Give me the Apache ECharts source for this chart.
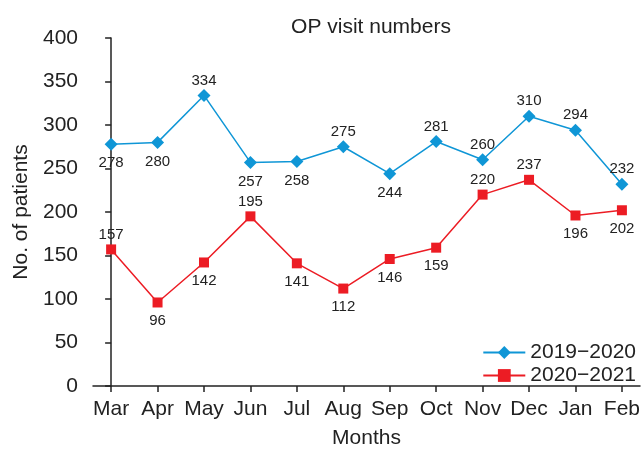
<!DOCTYPE html>
<html>
<head>
<meta charset="utf-8">
<script src="https://cdn.jsdelivr.net/npm/echarts@6/dist/echarts.min.js"></script>
<style>
  html, body { margin: 0; padding: 0; background: #fff; }
  #main { width: 643px; height: 454px; }
</style>
</head>
<body>
<div id="main"></div>
<script>
const months = ['Mar', 'Apr', 'May', 'Jun', 'Jul', 'Aug', 'Sep', 'Oct', 'Nov', 'Dec', 'Jan', 'Feb'];
const visits1920 = [278, 280, 334, 257, 258, 275, 244, 281, 260, 310, 294, 232];
const visits2021 = [157, 96, 142, 195, 141, 112, 146, 159, 220, 237, 196, 202];
const yTicks = [0, 50, 100, 150, 200, 250, 300, 350, 400];

// which side of the point each value label sits on
const side1920 = ['bottom', 'bottom', 'top', 'bottom', 'bottom', 'top', 'bottom', 'top', 'top', 'top', 'top', 'top'];
const side2021 = ['top', 'bottom', 'bottom', 'top', 'bottom', 'bottom', 'bottom', 'bottom', 'top', 'top', 'bottom', 'bottom'];

const font = 'Liberation Sans, Arial, sans-serif';
const idx = months.map((m, i) => i);

function points(values, sides, gapTop, gapBottom) {
  return values.map((v, i) => ({
    value: [i, v],
    label: { position: sides[i], distance: sides[i] === 'top' ? gapTop : gapBottom }
  }));
}

const chart = echarts.init(document.getElementById('main'), null, { renderer: 'canvas' });

const option = {
  animation: false,
  title: {
    text: 'OP visit numbers',
    left: 366,
    top: 12,
    textAlign: 'center',
    textStyle: { fontFamily: font, fontSize: 21, fontWeight: 'normal', color: '#222' }
  },
  legend: {
    right: 2,
    top: 337,
    orient: 'vertical',
    itemWidth: 42,
    itemHeight: 16,
    itemGap: 2,
    textStyle: { fontFamily: font, fontSize: 21, color: '#222' },
    data: ['2019−2020', '2020−2021']
  },
  grid: { left: 93, right: 2, top: 38, bottom: 64 },
  xAxis: {
    type: 'value',
    min: -0.39,
    max: 11.39,
    name: 'Months',
    nameLocation: 'middle',
    nameGap: 42,
    nameTextStyle: { fontFamily: font, fontSize: 21, color: '#222' },
    splitLine: { show: false },
    axisLine: { lineStyle: { color: '#222', width: 1.5 } },
    axisTick: { show: true, customValues: idx, length: 6, lineStyle: { color: '#222', width: 1.5 } },
    axisLabel: {
      customValues: idx,
      margin: 13,
      fontFamily: font,
      fontSize: 21,
      color: '#222',
      formatter: v => months[Math.round(v)]
    }
  },
  yAxis: {
    type: 'value',
    min: 0,
    max: 400,
    interval: 50,
    name: 'No. of patients',
    nameLocation: 'middle',
    nameGap: 59,
    nameTextStyle: { fontFamily: font, fontSize: 21, color: '#222' },
    splitLine: { show: false },
    axisLine: { show: true, lineStyle: { color: '#222', width: 1.5 } },
    axisTick: { show: true, length: 6, lineStyle: { color: '#222', width: 1.5 } },
    axisLabel: {
      margin: 15,
      fontFamily: font,
      fontSize: 21,
      color: '#222',
      formatter: v => yTicks.indexOf(v) >= 0 ? String(v) : ''
    }
  },
  series: [
    {
      name: '2019−2020',
      type: 'line',
      data: points(visits1920, side1920, 1, 5),
      symbol: 'diamond',
      symbolSize: 13,
      itemStyle: { color: '#0f96d6' },
      lineStyle: { color: '#0f96d6', width: 1.5 },
      label: { show: true, fontFamily: font, fontSize: 15, color: '#222', formatter: p => p.value[1] }
    },
    {
      name: '2020−2021',
      type: 'line',
      data: points(visits2021, side2021, 2, 6),
      symbol: 'rect',
      symbolSize: 10,
      itemStyle: { color: '#ec1c24' },
      lineStyle: { color: '#ec1c24', width: 1.5 },
      label: { show: true, fontFamily: font, fontSize: 15, color: '#222', formatter: p => p.value[1] }
    }
  ]
};

chart.setOption(option);
</script>
</body>
</html>
